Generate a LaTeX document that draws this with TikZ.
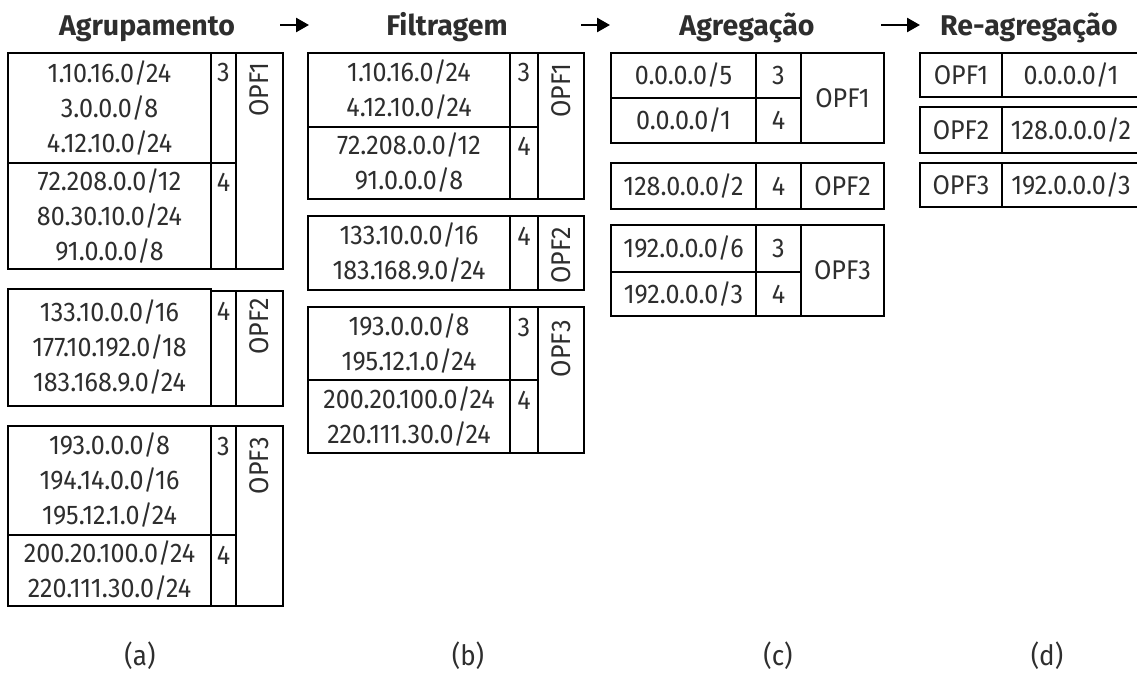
\documentclass[tikz,border=0pt]{standalone}
\usepackage{fontspec}
\setmainfont{Fira Sans}
\newfontfamily\cellfont[FakeStretch=0.93]{Fira Sans}
\usetikzlibrary{arrows.meta}
\definecolor{txt}{HTML}{2E2E2E}
\newcommand\mkcell[6]{\node[cell, minimum width={#4-#2}, minimum height={#5-#3}] (#1) at ({(#2+#4)/2},{(#3+#5)/2}) {#6};}
\tikzset{
  cellf/.style={font=\cellfont\fontsize{27}{35}\selectfont},
  cell/.style={draw=black, line width=1.7pt, inner sep=0pt, outer sep=0pt, align=center, text=txt, cellf},
  num/.style={anchor=base, inner sep=0pt, text=txt, cellf},
  opfv/.style={rotate=90, anchor=east, inner sep=0pt, text=txt, cellf},
  title/.style={inner sep=0pt, anchor=base, text=txt, font=\fontsize{28.5}{30}\selectfont\bfseries},
  sub/.style={inner sep=0pt, anchor=base, text=txt, font=\cellfont\fontsize{28}{30}\selectfont},
  flow/.style={line width=2.6pt, -{Triangle[length=13pt,width=14pt]}},
}
\begin{document}
\begin{tikzpicture}[x=1pt,y=-1pt]
\clip (0,0) rectangle (1137,679);
\fill[white] (0,0) rectangle (1137,679);
% titles
\node[title] (tA) at (147,36) {Agrupamento};
\node[title] (tB) at (447,36) {Filtragem};
\node[title] (tC) at (747,36) {Agregação};
\node[title] (tD) at (1029,36) {Re-agregação};
\coordinate (a1s) at (280,25); \coordinate (a1e) at (309,25);
\coordinate (a2s) at (581,25); \coordinate (a2e) at (610,25);
\coordinate (a3s) at (881,25); \coordinate (a3e) at (920,25);
\draw[flow] (a1s) -- (a1e);
\draw[flow] (a2s) -- (a2e);
\draw[flow] (a3s) -- (a3e);
% ---------------- (a)
\mkcell{aP11}{8}{53}{211}{163}{1.10.16.0/24\\3.0.0.0/8\\4.12.10.0/24}
\mkcell{aP12}{8}{163}{211}{269}{72.208.0.0/12\\80.30.10.0/24\\91.0.0.0/8}
\mkcell{aN11}{211}{53}{236}{163}{}
\mkcell{aN12}{211}{163}{236}{269}{}
\mkcell{aO1}{236}{53}{283}{269}{}
\node[num] at ([yshift=-29pt]aN11.north) {3};
\node[num] at ([yshift=-29pt]aN12.north) {4};
\node[opfv] at ([yshift=-9pt]aO1.north) {OPF1};
\mkcell{aP2}{8}{289}{211}{406}{133.10.0.0/16\\177.10.192.0/18\\183.168.9.0/24}
\mkcell{aN2}{211}{291}{236}{406}{}
\mkcell{aO2}{236}{291}{283}{406}{}
\node[num] at ([yshift=-29pt]aN2.north) {4};
\node[opfv] at ([yshift=-7pt]aO2.north) {OPF2};
\mkcell{aP31}{8}{426}{211}{535}{193.0.0.0/8\\194.14.0.0/16\\195.12.1.0/24}
\mkcell{aP32}{8}{535}{211}{606}{200.20.100.0/24\\220.111.30.0/24}
\mkcell{aN31}{211}{426}{236}{535}{}
\mkcell{aN32}{211}{535}{236}{606}{}
\mkcell{aO3}{236}{426}{283}{606}{}
\node[num] at ([yshift=-29pt]aN31.north) {3};
\node[num] at ([yshift=-29pt]aN32.north) {4};
\node[opfv] at ([yshift=-11pt]aO3.north) {OPF3};
% ---------------- (b)
\mkcell{bP11}{308}{53}{510}{127}{1.10.16.0/24\\4.12.10.0/24}
\mkcell{bP12}{308}{127}{510}{199}{72.208.0.0/12\\91.0.0.0/8}
\mkcell{bN11}{510}{53}{538}{127}{}
\mkcell{bN12}{510}{127}{538}{199}{}
\mkcell{bO1}{538}{53}{584}{199}{}
\node[num] at ([yshift=-29pt]bN11.north) {3};
\node[num] at ([yshift=-29pt]bN12.north) {4};
\node[opfv] at ([yshift=-10pt]bO1.north) {OPF1};
\mkcell{bP2}{308}{216}{510}{290}{133.10.0.0/16\\183.168.9.0/24}
\mkcell{bN2}{510}{216}{538}{290}{}
\mkcell{bO2}{538}{216}{584}{290}{}
\node[num] at ([yshift=-29pt]bN2.north) {4};
\node[opfv] at ([yshift=-11pt]bO2.north) {OPF2};
\mkcell{bP31}{308}{307}{510}{380}{193.0.0.0/8\\195.12.1.0/24}
\mkcell{bP32}{308}{380}{510}{453}{200.20.100.0/24\\220.111.30.0/24}
\mkcell{bN31}{510}{307}{538}{380}{}
\mkcell{bN32}{510}{380}{538}{453}{}
\mkcell{bO3}{538}{307}{584}{453}{}
\node[num] at ([yshift=-29pt]bN31.north) {3};
\node[num] at ([yshift=-29pt]bN32.north) {4};
\node[opfv] at ([yshift=-13pt]bO3.north) {OPF3};
% ---------------- (c)
\mkcell{cP11}{611}{53}{756}{98}{0.0.0.0/5}
\mkcell{cP12}{611}{98}{756}{143}{0.0.0.0/1}
\mkcell{cN11}{756}{53}{801}{98}{3}
\mkcell{cN12}{756}{98}{801}{143}{4}
\mkcell{cO1}{801}{53}{884}{143}{OPF1}
\mkcell{cP2}{611}{163}{756}{209}{128.0.0.0/2}
\mkcell{cN2}{756}{163}{801}{209}{4}
\mkcell{cO2}{801}{163}{884}{209}{OPF2}
\mkcell{cP31}{611}{225}{756}{272}{192.0.0.0/6}
\mkcell{cP32}{611}{272}{756}{316}{192.0.0.0/3}
\mkcell{cN31}{756}{225}{801}{272}{3}
\mkcell{cN32}{756}{272}{801}{316}{4}
\mkcell{cO3}{801}{225}{884}{316}{OPF3}
% ---------------- (d)
\mkcell{dO1}{920}{53}{1002}{97}{OPF1}
\mkcell{dP1}{1002}{53}{1140}{97}{0.0.0.0/1}
\mkcell{dO2}{920}{107}{1002}{153}{OPF2}
\mkcell{dP2}{1002}{107}{1140}{153}{128.0.0.0/2}
\mkcell{dO3}{920}{163}{1002}{207}{OPF3}
\mkcell{dP3}{1002}{163}{1140}{207}{192.0.0.0/3}
% sub labels
\node[sub] (la) at (140,665) {(a)};
\node[sub] (lb) at (468,665) {(b)};
\node[sub] (lc) at (778,665) {(c)};
\node[sub] (ld) at (1047,665) {(d)};
\end{tikzpicture}
\end{document}
